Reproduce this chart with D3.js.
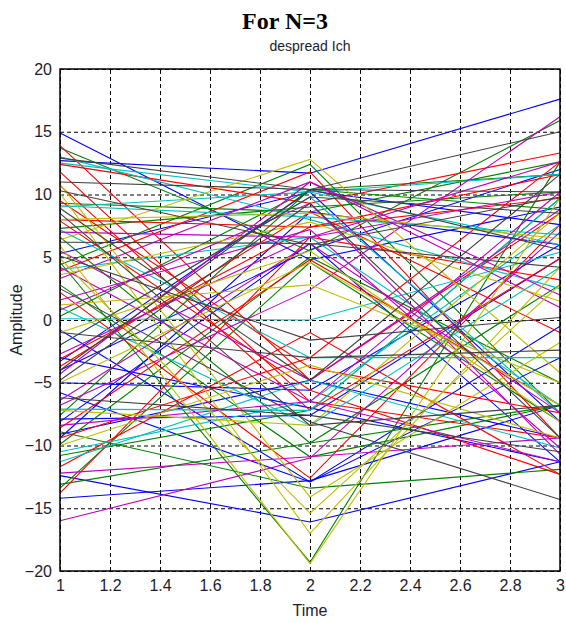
<!DOCTYPE html>
<html>
<head>
<meta charset="utf-8">
<script src="https://cdn.jsdelivr.net/npm/d3@7"></script>
<style>
  html, body { margin: 0; padding: 0; background: #fff; }
  svg { display: block; }
</style>
</head>
<body>
<svg id="chart" width="566" height="623"></svg>
<script>
// Sample instants of the despread signal
const timePoints = [1, 2, 3];

// Despread I-channel amplitude traces, one [t=1, t=2, t=3] triple per trace,
// grouped by the colour each trace is drawn in.
const blueTraces = [
  [12.7, 11.7, 17.6], [14.9, 4.8, 9.0], [5.3, 10.2, -8.1], [-0.8, -12.9, -0.5],
  [-3.3, 10.3, 7.6], [-4.0, 5.6, 12.0], [-5.0, -5.6, 6.0], [-5.8, -12.9, -3.0],
  [-7.9, -7.6, 4.9], [-8.1, 6.1, -11.3], [-9.1, -4.8, -9.4], [-12.4, -16.1, -11.3],
  [-14.2, -12.8, -6.8], [-9.4, 8.6, 6.0], [-3.0, -7.0, -11.3]
];
const greenTraces = [
  [13.7, 5.5, 15.9], [9.3, 8.6, 12.6], [6.6, -9.8, 2.8], [4.4, 12.4, -7.4],
  [4.6, -19.3, 12.6], [2.8, -10.9, -6.8], [0.3, 10.4, 8.8], [-7.6, 10.4, 11.6],
  [-8.9, -13.4, -11.9], [-9.9, 5.0, -5.0], [-10.8, -7.2, 9.7], [-13.1, -9.8, -6.8],
  [-13.4, 4.6, -8.1], [7.3, 9.0, 10.2]
];
const redTraces = [
  [13.9, -4.8, 8.5], [12.4, 9.3, 13.3], [11.8, -6.5, -9.4], [10.7, -7.2, 4.9],
  [8.0, 7.4, 9.7], [7.9, -5.6, -12.3], [3.9, 11.8, -9.4], [2.2, -12.6, 7.6],
  [-3.1, 7.4, 11.6], [-3.7, 8.6, -1.0], [-8.6, 4.8, -6.8], [-9.4, -3.0, 12.6],
  [-11.7, -1.0, -12.3], [-13.8, 6.6, 3.2], [9.5, -3.8, -7.4]
];
const cyanTraces = [
  [13.0, 8.0, 2.5], [12.5, 10.2, 11.6], [9.1, 8.2, 6.8], [7.2, -3.0, -3.0],
  [0.1, 0.0, 5.4], [-7.1, -7.2, 9.7], [-10.5, -6.5, 7.6], [-11.3, -4.8, -10.2],
  [4.0, 6.6, -6.8], [1.0, -8.4, 4.2], [-2.0, 9.8, -7.4], [9.0, 10.2, 6.0]
];
const magentaTraces = [
  [7.0, 6.6, 10.2], [4.2, -6.5, -11.3], [3.3, 11.0, 2.0], [1.6, 7.2, -10.2],
  [0.8, 9.3, -10.7], [-2.7, 6.6, 12.6], [-4.3, 11.0, 1.0], [-6.4, 6.1, -7.4],
  [-8.4, -6.5, 10.2], [-12.2, -10.9, -9.4], [-16.0, -11.0, 7.0], [-6.8, 2.4, 16.2],
  [5.5, -4.8, 8.8]
];
const yellowTraces = [
  [10.1, -17.0, 4.2], [5.9, -19.4, 9.7], [6.4, 12.8, -4.2], [4.9, -15.4, 2.8],
  [1.2, 2.8, -5.0], [-5.0, 4.6, -6.8], [-7.2, -8.4, 8.5], [10.8, -14.1, -1.8],
  [-1.0, 5.5, -8.1], [-10.0, -3.6, -9.4], [8.0, 8.5, 6.5], [3.6, 7.8, 1.5]
];
const grayTraces = [
  [12.9, 10.4, 15.0], [11.0, 10.4, 10.2], [8.9, -4.8, 11.6], [8.5, -8.4, -6.8],
  [6.2, 6.1, 4.2], [5.1, -1.6, 0.2], [-2.0, 9.8, 8.5], [-4.8, 9.3, -9.4],
  [-6.2, -7.6, -10.5], [-1.0, -3.0, -2.4], [2.5, -8.1, -14.3], [10.3, 6.0, 9.8],
  [-4.0, 10.4, 5.6]
];

// Axis tick values
const xTicks = [1, 1.2, 1.4, 1.6, 1.8, 2, 2.2, 2.4, 2.6, 2.8, 3];
const yTicks = [-20, -15, -10, -5, 0, 5, 10, 15, 20];

const traceGroups = [
  { color: "#0000ff", traces: blueTraces },
  { color: "#008000", traces: greenTraces },
  { color: "#ff0000", traces: redTraces },
  { color: "#00bfbf", traces: cyanTraces },
  { color: "#bf00bf", traces: magentaTraces },
  { color: "#bfbf00", traces: yellowTraces },
  { color: "#404040", traces: grayTraces }
];

const svg = d3.select("#chart");
const plot = { left: 60, right: 560, top: 69, bottom: 571 };

const x = d3.scaleLinear().domain([1, 3]).range([plot.left, plot.right]);
const y = d3.scaleLinear().domain([-20, 20]).range([plot.bottom, plot.top]);

const labelFont = "'Liberation Sans Narrow', 'Liberation Sans', Arial, sans-serif";
const inkColor = "#1c1c2c";

// Dashed grid
const grid = svg.append("g").attr("class", "grid");
grid.append("g")
  .attr("transform", `translate(0,${plot.bottom})`)
  .call(d3.axisBottom(x).tickValues(xTicks).tickSize(-(plot.bottom - plot.top)).tickFormat(""))
  .call(g => g.select(".domain").remove());
grid.append("g")
  .attr("transform", `translate(${plot.left},0)`)
  .call(d3.axisLeft(y).tickValues(yTicks).tickSize(-(plot.right - plot.left)).tickFormat(""))
  .call(g => g.select(".domain").remove());
grid.selectAll("line")
  .attr("stroke", "#000")
  .attr("stroke-width", 1)
  .attr("stroke-dasharray", "4,3");

// Traces
const line = d3.line()
  .x((d, i) => x(timePoints[i]))
  .y(d => y(d));

const traceLayer = svg.append("g").attr("class", "traces");
traceGroups.forEach(group => {
  traceLayer.append("g")
    .selectAll("path")
    .data(group.traces)
    .join("path")
    .attr("d", line)
    .attr("fill", "none")
    .attr("stroke", group.color)
    .attr("stroke-width", 1.1);
});

// Axes with tick labels
const xAxis = svg.append("g")
  .attr("transform", `translate(0,${plot.bottom})`)
  .call(d3.axisBottom(x).tickValues(xTicks).tickSize(0).tickPadding(9)
    .tickFormat(d => d3.format("")(+d.toFixed(1))));
const yAxis = svg.append("g")
  .attr("transform", `translate(${plot.left},0)`)
  .call(d3.axisLeft(y).tickValues(yTicks).tickSize(0).tickPadding(8));
[xAxis, yAxis].forEach(a => {
  a.select(".domain").remove();
  a.selectAll("text")
    .attr("fill", inkColor)
    .style("font-family", labelFont)
    .style("font-size", "16px");
});

// Box around the plot area
svg.append("rect")
  .attr("x", plot.left)
  .attr("y", plot.top)
  .attr("width", plot.right - plot.left)
  .attr("height", plot.bottom - plot.top)
  .attr("fill", "none")
  .attr("stroke", "#000")
  .attr("stroke-width", 1.5);

// Titles and axis labels
svg.append("text")
  .attr("x", 285).attr("y", 29)
  .attr("text-anchor", "middle")
  .style("font-family", "'Liberation Serif', 'Times New Roman', serif")
  .style("font-weight", "bold")
  .style("font-size", "24px")
  .attr("fill", "#000")
  .text("For N=3");

svg.append("text")
  .attr("x", (plot.left + plot.right) / 2).attr("y", 51)
  .attr("text-anchor", "middle")
  .style("font-family", labelFont)
  .style("font-size", "14px")
  .attr("fill", inkColor)
  .text("despread Ich");

svg.append("text")
  .attr("x", (plot.left + plot.right) / 2).attr("y", 616)
  .attr("text-anchor", "middle")
  .style("font-family", labelFont)
  .style("font-size", "16px")
  .attr("fill", inkColor)
  .text("Time");

svg.append("text")
  .attr("transform", `translate(22,${(plot.top + plot.bottom) / 2}) rotate(-90)`)
  .attr("text-anchor", "middle")
  .style("font-family", labelFont)
  .style("font-size", "16px")
  .attr("fill", inkColor)
  .text("Amplitude");
</script>
</body>
</html>
